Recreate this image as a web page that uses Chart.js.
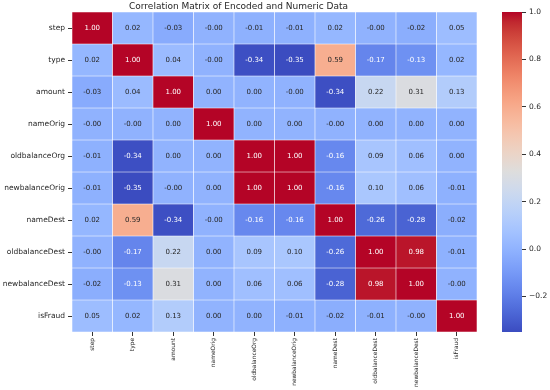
<!DOCTYPE html>
<html><head><meta charset="utf-8">
<script src="https://cdn.jsdelivr.net/npm/chart.js@4.4.0/dist/chart.umd.min.js"></script>
<style>
html,body{margin:0;padding:0;background:#fff;overflow:hidden}
#wrap{position:relative;width:550px;height:390px}
#main{position:absolute;left:0;top:0}
#cb{position:absolute;left:480px;top:0}
</style></head><body>
<div id="wrap"><canvas id="main" width="550" height="390"></canvas><canvas id="cb" width="70" height="390"></canvas></div>
<script>
const variables = ['step','type','amount','nameOrig','oldbalanceOrg','newbalanceOrig','nameDest','oldbalanceDest','newbalanceDest','isFraud'];
const rowStep           = [1.00, 0.02, -0.03, -0.001, -0.01, -0.01, 0.02, -0.001, -0.02, 0.05];
const rowType           = [0.02, 1.00, 0.04, -0.001, -0.34, -0.35, 0.59, -0.17, -0.13, 0.02];
const rowAmount         = [-0.03, 0.04, 1.00, 0.001, 0.001, -0.001, -0.34, 0.22, 0.31, 0.13];
const rowNameOrig       = [-0.001, -0.001, 0.001, 1.00, 0.001, 0.001, -0.001, 0.001, 0.001, 0.001];
const rowOldbalanceOrg  = [-0.01, -0.34, 0.001, 0.001, 1.00, 1.00, -0.16, 0.09, 0.06, 0.001];
const rowNewbalanceOrig = [-0.01, -0.35, -0.001, 0.001, 1.00, 1.00, -0.16, 0.10, 0.06, -0.01];
const rowNameDest       = [0.02, 0.59, -0.34, -0.001, -0.16, -0.16, 1.00, -0.26, -0.28, -0.02];
const rowOldbalanceDest = [-0.001, -0.17, 0.22, 0.001, 0.09, 0.10, -0.26, 1.00, 0.98, -0.01];
const rowNewbalanceDest = [-0.02, -0.13, 0.31, 0.001, 0.06, 0.06, -0.28, 0.98, 1.00, -0.001];
const rowIsFraud        = [0.05, 0.02, 0.13, 0.001, 0.001, -0.01, -0.02, -0.01, -0.001, 1.00];
const colorbarTicks = [-0.2, 0.0, 0.2, 0.4, 0.6, 0.8, 1.0];
const titleText = 'Correlation Matrix of Encoded and Numeric Data';

const rows = [rowStep,rowType,rowAmount,rowNameOrig,rowOldbalanceOrg,rowNewbalanceOrig,rowNameDest,rowOldbalanceDest,rowNewbalanceDest,rowIsFraud];
const vmin = Math.min(...rows.flat());
const vmax = Math.max(...rows.flat());

const CW = [[59,76,192],[68,90,204],[77,104,215],[87,117,225],[98,130,234],[108,142,241],[119,154,247],[130,165,251],[141,176,254],[152,185,255],[163,194,255],[174,201,253],[184,208,249],[194,213,244],[204,217,238],[213,219,230],[221,221,221],[229,216,209],[236,211,197],[241,204,185],[245,196,173],[247,187,160],[247,177,148],[247,166,135],[244,154,123],[241,141,111],[236,127,99],[229,112,88],[222,96,77],[213,80,66],[203,62,56],[192,40,47],[180,4,38]];
function cwRGB(t){
  t = Math.max(0, Math.min(1, t));
  const p = t*(CW.length-1), i = Math.min(CW.length-2, Math.floor(p)), f = p - i;
  return CW[i].map((c,k)=>Math.round(c + (CW[i+1][k]-c)*f));
}
function cellRGB(v){ return cwRGB((v - vmin)/(vmax - vmin)); }
function lum(rgb){
  const l = rgb.map(c=>{c/=255; return c<=0.03928 ? c/12.92 : Math.pow((c+0.055)/1.055,2.4);});
  return 0.2126*l[0]+0.7152*l[1]+0.0722*l[2];
}
const FONT = 'DejaVu Sans';
const TXT = '#262626';

const annot = {
  id:'annot',
  afterDatasetsDraw(chart){
    const c = chart.ctx;
    c.save();
    c.font = `7px "${FONT}"`;
    c.textAlign = 'center'; c.textBaseline = 'middle';
    chart.data.datasets.forEach((ds, di)=>{
      const meta = chart.getDatasetMeta(di);
      meta.data.forEach((el, j)=>{
        const v = ds.values[j];
        const rgb = cellRGB(v);
        c.fillStyle = lum(rgb) > 0.408 ? TXT : '#ffffff';
        const p = el.getCenterPoint();
        c.fillText(v.toFixed(2), p.x, p.y + 0.5);
      });
    });
    c.restore();
  }
};

new Chart(document.getElementById('main'), {
  type:'bar',
  data:{
    labels: variables,
    datasets: rows.map((vals, r)=>({
      data: vals.map(()=>[r, r+1]),
      values: vals,
      backgroundColor: vals.map(v=>`rgb(${cellRGB(v).join(',')})`),
      borderColor:'rgba(255,255,255,0.55)',
      borderWidth:0.6,
      borderSkipped:false,
      barPercentage:1, categoryPercentage:1, grouped:false
    }))
  },
  options:{
    responsive:false, animation:false,
    layout:{padding:{left:0,right:73,top:0,bottom:0}},
    plugins:{
      legend:{display:false}, tooltip:{enabled:false},
      title:{display:true, text:titleText, color:TXT, font:{family:FONT,size:9,weight:'normal',lineHeight:1.2}, padding:{top:1,bottom:0.2}}
    },
    scales:{
      x:{
        type:'category',
        grid:{offset:false, drawOnChartArea:false, drawTicks:true, tickLength:4, color:'#333'},
        border:{display:false},
        ticks:{minRotation:90, maxRotation:90, autoSkip:false, padding:2, color:TXT, font:{family:FONT,size:5.9}},
        afterFit(s){ s.height = 58; }
      },
      y:{
        type:'linear', min:0, max:10, reverse:true,
        afterBuildTicks(s){ s.ticks = variables.map((_,i)=>({value:i+0.5})); },
        grid:{drawOnChartArea:false, drawTicks:true, tickLength:4, color:'#333'},
        border:{display:false},
        ticks:{autoSkip:false, padding:3, color:TXT, font:{family:FONT,size:7.5}, callback:(v,i)=>variables[i]},
        afterFit(s){ s.width = 72; }
      }
    }
  },
  plugins:[annot]
});

new Chart(document.getElementById('cb'), {
  type:'bar',
  data:{
    labels:['colorbar'],
    datasets:[{
      data:[[vmin, vmax]],
      backgroundColor(ctx){
        const ca = ctx.chart.chartArea;
        if(!ca) return '#ddd';
        const g = ctx.chart.ctx.createLinearGradient(0, ca.bottom, 0, ca.top);
        CW.forEach((c,i)=>g.addColorStop(i/(CW.length-1), `rgb(${c.join(',')})`));
        return g;
      },
      borderWidth:0, barPercentage:1, categoryPercentage:1
    }]
  },
  options:{
    responsive:false, animation:false,
    layout:{padding:{left:22,right:0,top:12,bottom:58}},
    plugins:{legend:{display:false}, tooltip:{enabled:false}},
    scales:{
      x:{display:false},
      y:{
        position:'right', min:vmin, max:vmax,
        afterBuildTicks(s){ s.ticks = colorbarTicks.map(v=>({value:v})); },
        grid:{drawOnChartArea:false, drawTicks:true, tickLength:4, color:'#333'},
        border:{display:false},
        ticks:{padding:3, color:TXT, font:{family:FONT,size:7.5}, callback:v=>v.toFixed(1).replace('-','\u2212')},
        afterFit(s){ s.width = 28; }
      }
    }
  }
});
</script>
</body></html>
